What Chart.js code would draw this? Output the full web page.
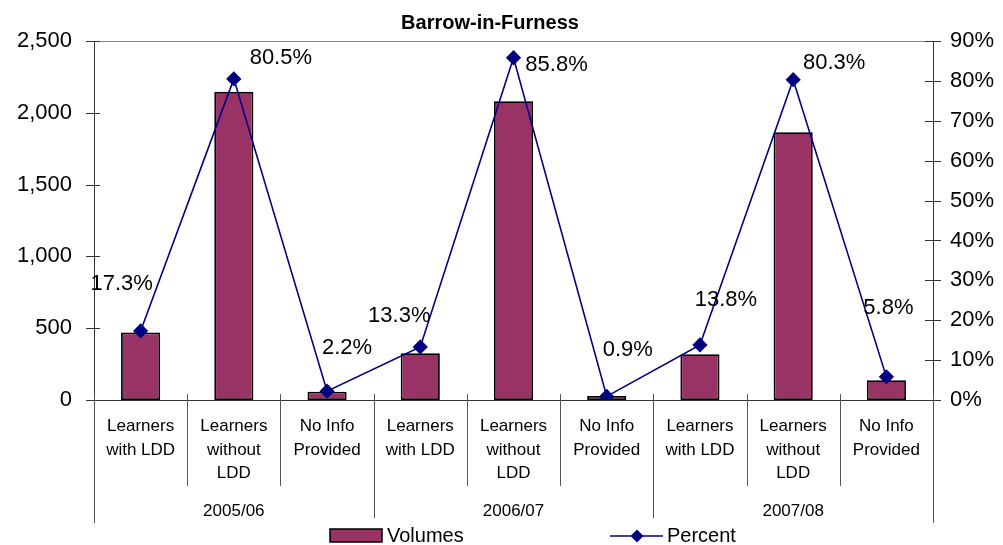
<!DOCTYPE html>
<html>
<head>
<meta charset="utf-8">
<script src="https://cdn.jsdelivr.net/npm/chart.js@4.4.0/dist/chart.umd.min.js"></script>
<style>
  html, body { margin: 0; padding: 0; background: #fff; }
  #wrap { width: 1003px; height: 545px; position: relative; }
</style>
</head>
<body>
<div id="wrap"><canvas id="chart"></canvas></div>
<script>
// Barrow-in-Furness - volumes and percent by learner type
const categories = [
    ['Learners', 'with LDD'], ['Learners', 'without', 'LDD'], ['No Info', 'Provided'],
    ['Learners', 'with LDD'], ['Learners', 'without', 'LDD'], ['No Info', 'Provided'],
    ['Learners', 'with LDD'], ['Learners', 'without', 'LDD'], ['No Info', 'Provided']
];
const years = ['2005/06', '2006/07', '2007/08'];
const volumes = [470, 2146, 58, 326, 2081, 28, 319, 1865, 138];
const percents = [17.3, 80.5, 2.2, 13.3, 85.8, 0.9, 13.8, 80.3, 5.8];

// where each % label sits relative to its marker (px)
const labelOffsets = [[-19, -47], [47, -21], [20, -43], [-21, -31], [43, 7], [21, -46], [26, -45], [41, -17], [2, -69]];

const FONT = '"Liberation Sans", Arial, sans-serif';
const BAR = '#993366';
const NAVY = '#000080';
const AXIS = '#333';

function line(ctx, x1, y1, x2, y2) {
    ctx.beginPath();
    ctx.moveTo(x1, y1);
    ctx.lineTo(x2, y2);
    ctx.stroke();
}

function diamond(ctx, x, y, r) {
    ctx.beginPath();
    ctx.moveTo(x, y - r);
    ctx.lineTo(x + r, y);
    ctx.lineTo(x, y + r);
    ctx.lineTo(x - r, y);
    ctx.closePath();
    ctx.fill();
}

const decor = {
    id: 'decor',
    afterDatasetsDraw(c) {
        const ctx = c.ctx;
        const meta = c.getDatasetMeta(0);
        ctx.save();
        ctx.font = '22px ' + FONT;
        ctx.fillStyle = '#000';
        ctx.textAlign = 'center';
        ctx.textBaseline = 'middle';
        meta.data.forEach((pt, i) => {
            const [dx, dy] = labelOffsets[i];
            ctx.fillText(percents[i].toFixed(1) + '%', pt.x + dx, pt.y + dy);
        });
        ctx.restore();
    },
    afterDraw(c) {
        const ctx = c.ctx, a = c.chartArea;
        const x = c.scales.x, x2 = c.scales.x2, yL = c.scales.y, yR = c.scales.y1;
        ctx.save();
        ctx.lineWidth = 1;

        // top frame
        ctx.strokeStyle = '#888';
        line(ctx, a.left, a.top + 0.5, a.right, a.top + 0.5);

        // crossing tick marks
        ctx.strokeStyle = AXIS;
        yL.ticks.forEach(t => {
            const p = Math.round(yL.getPixelForValue(t.value)) + 0.5;
            line(ctx, a.left - 8, p, a.left + 6, p);
        });
        yR.ticks.forEach(t => {
            const p = Math.round(yR.getPixelForValue(t.value)) + 0.5;
            line(ctx, a.right - 8, p, a.right + 8, p);
        });

        // category / year separators
        ctx.strokeStyle = '#555';
        const n = categories.length;
        for (let i = 0; i <= n; i++) {
            const px = Math.round(x.getPixelForValue(i - 0.5)) + 0.5;
            let end = x.bottom - 1;
            if (i === 0 || i === n) end = x2.top + 36;
            else if (i % 3 === 0) end = x2.top + 31;
            line(ctx, px, a.bottom - 6, px, end);
        }

        // title
        ctx.fillStyle = '#000';
        ctx.font = 'bold 20px ' + FONT;
        ctx.textAlign = 'center';
        ctx.textBaseline = 'middle';
        ctx.fillText('Barrow-in-Furness', 490, 23);

        // legend
        const ly = 536;
        ctx.fillStyle = BAR;
        ctx.fillRect(330, ly - 7, 52, 13);
        ctx.strokeStyle = '#000';
        ctx.lineWidth = 1.5;
        ctx.strokeRect(330, ly - 7, 52, 13);
        ctx.fillStyle = '#000';
        ctx.font = '20px ' + FONT;
        ctx.textAlign = 'left';
        ctx.fillText('Volumes', 387, ly);

        ctx.strokeStyle = NAVY;
        ctx.lineWidth = 1.5;
        line(ctx, 610, ly, 663, ly);
        ctx.fillStyle = NAVY;
        diamond(ctx, 637, ly, 6.5);
        ctx.fillStyle = '#000';
        ctx.fillText('Percent', 667, ly);
        ctx.restore();
    }
};

new Chart(document.getElementById('chart'), {
    type: 'bar',
    data: {
        labels: categories,
        datasets: [{
            type: 'line',
            label: 'Percent',
            data: percents,
            yAxisID: 'y1',
            xAxisID: 'x',
            borderColor: NAVY,
            borderWidth: 1.6,
            pointStyle: 'rectRot',
            pointRadius: 6.5,
            pointBackgroundColor: NAVY,
            pointBorderColor: NAVY,
            tension: 0,
            order: 0
        }, {
            type: 'bar',
            label: 'Volumes',
            data: volumes,
            yAxisID: 'y',
            xAxisID: 'x',
            backgroundColor: BAR,
            borderColor: '#000',
            borderWidth: 1.8,
            borderSkipped: false,
            barPercentage: 0.42,
            categoryPercentage: 1,
            order: 1
        }]
    },
    options: {
        responsive: true,
        maintainAspectRatio: false,
        animation: false,
        events: [],
        layout: { padding: { top: 41, left: 0, right: 0, bottom: 0 } },
        plugins: {
            legend: { display: false },
            title: { display: false },
            tooltip: { enabled: false }
        },
        scales: {
            x: {
                position: 'bottom',
                offset: true,
                grid: { display: false },
                border: { display: true, color: AXIS, width: 1 },
                ticks: {
                    color: '#000',
                    font: { family: FONT, size: 17, lineHeight: 1.38 },
                    padding: 7,
                    autoSkip: false,
                    maxRotation: 0
                },
                afterFit: s => { s.height = 87; }
            },
            x2: {
                type: 'category',
                position: 'bottom',
                labels: years,
                offset: true,
                grid: { display: false },
                border: { display: false },
                ticks: {
                    color: '#000',
                    font: { family: FONT, size: 17 },
                    padding: 6,
                    autoSkip: false,
                    maxRotation: 0
                },
                afterFit: s => { s.height = 58; }
            },
            y: {
                position: 'left',
                min: 0,
                max: 2500,
                grid: { display: false },
                border: { display: true, color: AXIS, width: 1 },
                ticks: {
                    stepSize: 500,
                    color: '#000',
                    padding: 14,
                    font: { family: FONT, size: 22 },
                    callback: v => v.toLocaleString('en-US')
                },
                afterFit: s => { s.width = 94; }
            },
            y1: {
                position: 'right',
                min: 0,
                max: 90,
                grid: { display: false },
                border: { display: true, color: AXIS, width: 1 },
                ticks: {
                    stepSize: 10,
                    color: '#000',
                    padding: 9,
                    font: { family: FONT, size: 22 },
                    callback: v => v + '%'
                },
                afterFit: s => { s.width = 70; }
            }
        }
    },
    plugins: [decor]
});
</script>
</body>
</html>
